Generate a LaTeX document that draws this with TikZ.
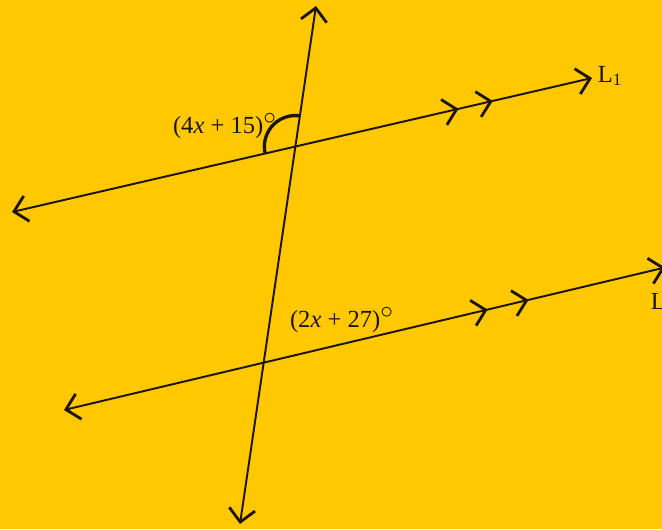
\documentclass[tikz,border=0pt]{standalone}
\usepackage{fontspec}
\setmainfont{Liberation Serif}
\usetikzlibrary{arrows.meta,calc,angles,decorations.markings}
\definecolor{Paper}{HTML}{FFC800}
\definecolor{Ink}{HTML}{1E140A}
\newcommand{\degmark}{$^{\textstyle\circ}$}

\begin{document}
\begin{tikzpicture}[line width=1.1pt,draw=Ink,
    barb/.tip={Straight Barb[length=2.6mm,width=5.2mm,line width=1.6pt]},
    parline/.style 2 args={Ink,barb-barb,postaction={decorate,decoration={markings,
      mark=at position #1 with {\arrow{barb}},
      mark=at position #1+#2 with {\arrow{barb}}}}},
    lbl/.style={text=Ink,font=\fontsize{14}{16}\selectfont}]
    \fill[Paper] (0,0) rectangle (13.24,10.58);
    \useasboundingbox (0,0) rectangle (13.24,10.58);
    \coordinate (Ttop) at (6.32,10.46);\coordinate (Tbot) at (4.80,0.10);
    \coordinate (Aw) at (0.24,6.34);\coordinate (Ae) at (11.84,9.02);
    \coordinate (Bw) at (1.28,2.38);\coordinate (Be) at (13.30,5.23);
    \coordinate (X1) at (intersection of Ttop--Tbot and Aw--Ae);
    \draw[Ink,barb-barb] (Tbot)--(Ttop);
    \draw[parline={0.77}{0.059}] (Aw)--(Ae);
    \draw[parline={0.705}{0.068}] (Bw)--(Be);
    \pic[draw=Ink,line width=1.9pt,angle radius=0.62cm] {angle=Ttop--X1--Aw};
    \node[lbl] (k1) at (4.50,8.06) {(4\textit{x} + 15)\degmark};
    \node[lbl] (k2) at (6.84,4.18) {(2\textit{x} + 27)\degmark};
    \node[lbl,anchor=west,inner sep=0pt] (n1) at (11.94,9.06) {L\textsubscript{1}};
    \node[lbl,anchor=west,inner sep=0pt] (n2) at (13.0,4.56) {L};
  \end{tikzpicture}
\end{document}
